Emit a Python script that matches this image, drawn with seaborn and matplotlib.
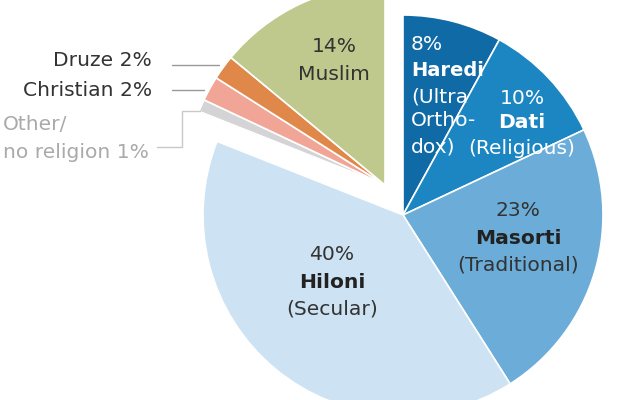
import matplotlib
matplotlib.use("Agg")
import matplotlib.pyplot as plt
import seaborn as sns

sns.set_theme(style="white")
plt.rcParams['font.family'] = ['DejaVu Sans']

# Data
jewish_labels = ["Haredi", "Dati", "Masorti", "Hiloni"]
jewish_values = [8, 10, 23, 40]
jewish_colors = ["#0f6aa5", "#1c86c3", "#6badd8", "#cde2f2"]

other_labels = ["Other/\nno religion", "Christian", "Druze", "Muslim"]
other_values = [1, 2, 2, 14]
other_colors = ["#d4d4d6", "#f0a597", "#e0874a", "#bfc98d"]

W, H = 640, 400
fig = plt.figure(figsize=(6.4, 4.0), dpi=100)
ax = fig.add_axes([0, 0, 1, 1])

R = 200
jc = (403, H - 215)
oc = (385, H - 185)

jsum = sum(jewish_values)
osum = sum(other_values)

# Jewish group
w1, _ = ax.pie(jewish_values + [osum], center=jc, radius=R, startangle=90,
               counterclock=False, colors=jewish_colors + ["none"],
               wedgeprops=dict(edgecolor="white", linewidth=1.2), frame=True)
w1[-1].set_edgecolor("none")
# Non-Jewish group
w2, _ = ax.pie([jsum] + other_values, center=oc, radius=R, startangle=90,
               counterclock=False, colors=["none"] + other_colors,
               wedgeprops=dict(edgecolor="white", linewidth=1.2), frame=True)
w2[0].set_edgecolor("none")
ax.set_xlim(0, W)
ax.set_ylim(0, H)
ax.set_aspect("equal")
ax.axis("off")

def T(x, y, s, **kw):
    ax.text(x, H - y, s, va="center", **kw)

fs = 14.6
white = "white"
dark = "#222222"
grey = "#333333"
# Haredi
T(411, 44, f"{jewish_values[0]}%", color=white, fontsize=fs, ha="left")
T(411, 71, jewish_labels[0], color=white, fontsize=fs - 0.6, ha="left", fontweight="bold")
T(411, 97, "(Ultra", color=white, fontsize=fs, ha="left")
T(411, 121, "Ortho-", color=white, fontsize=fs, ha="left")
T(411, 147, "dox)", color=white, fontsize=fs, ha="left")
# Dati
T(522, 98, f"{jewish_values[1]}%", color=white, fontsize=fs, ha="center")
T(522, 123, jewish_labels[1], color=white, fontsize=fs, ha="center", fontweight="bold")
T(522, 149, "(Religious)", color=white, fontsize=fs, ha="center")
# Masorti
T(518, 211, f"{jewish_values[2]}%", color=grey, fontsize=fs, ha="center")
T(518, 238, jewish_labels[2], color=dark, fontsize=fs, ha="center", fontweight="bold")
T(518, 265, "(Traditional)", color=grey, fontsize=fs, ha="center")
# Hiloni
T(332, 255, f"{jewish_values[3]}%", color=grey, fontsize=fs, ha="center")
T(332, 282, jewish_labels[3], color=dark, fontsize=fs, ha="center", fontweight="bold")
T(332, 309, "(Secular)", color=grey, fontsize=fs, ha="center")
# Muslim
T(334, 46, f"{other_values[3]}%", color=grey, fontsize=fs, ha="center")
T(334, 75, other_labels[3], color=grey, fontsize=fs, ha="center")

# Left labels
T(152, 60, f"{other_labels[2]} {other_values[2]}%", color=grey, fontsize=fs, ha="right")
T(152, 91, f"{other_labels[1]} {other_values[1]}%", color=grey, fontsize=fs, ha="right")
T(3, 125, "Other/", color="#aaaaaa", fontsize=fs, ha="left")
T(3, 153, f"no religion {other_values[0]}%", color="#aaaaaa", fontsize=fs, ha="left")

# Leader lines
lc = "#999999"
ax.plot([172, 219], [H - 65, H - 65], color=lc, lw=1)
ax.plot([172, 204], [H - 90, H - 90], color=lc, lw=1)
ax.plot([157, 182, 182, 200], [H - 147, H - 147, H - 111, H - 111], color="#c8c8c8", lw=1)

fig.savefig("out.png", dpi=100)
